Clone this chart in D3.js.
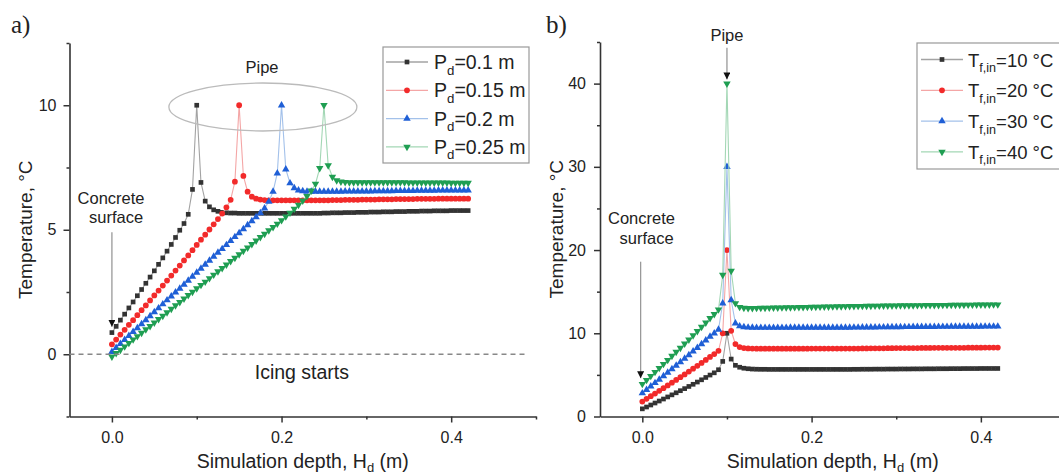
<!DOCTYPE html>
<html><head><meta charset="utf-8">
<script src="https://cdn.jsdelivr.net/npm/d3@7"></script>
<style>
body{margin:0;background:#fff}
svg{display:block}
text{font-family:"Liberation Sans",Arial,sans-serif;fill:#222}
</style>
</head><body>
<svg id="c" width="1059" height="476"></svg>
<script>
// ---------- DATA ----------
const depth = [0,0.005,0.01,0.015,0.02,0.025,0.03,0.035,0.04,0.045,
0.05,0.055,0.06,0.065,0.07,0.075,0.08,0.085,0.09,0.095,
0.1,0.105,0.11,0.115,0.12,0.125,0.13,0.135,0.14,0.145,
0.15,0.155,0.16,0.165,0.17,0.175,0.18,0.185,0.19,0.195,
0.2,0.205,0.21,0.215,0.22,0.225,0.23,0.235,0.24,0.245,
0.25,0.255,0.26,0.265,0.27,0.275,0.28,0.285,0.29,0.295,
0.3,0.305,0.31,0.315,0.32,0.325,0.33,0.335,0.34,0.345,
0.35,0.355,0.36,0.365,0.37,0.375,0.38,0.385,0.39,0.395,
0.4,0.405,0.41,0.415,0.42];

// Panel a) pipe depth P_d
const aLabels = ["0.1 m","0.15 m","0.2 m","0.25 m"];
const aPd010 = [0.87,1.12,1.37,1.61,1.86,2.10,2.35,2.60,2.85,3.10,
3.35,3.61,3.87,4.14,4.41,4.69,4.98,5.25,5.62,6.62,
10.00,6.90,6.15,5.92,5.80,5.74,5.70,5.68,5.67,5.67,
5.66,5.66,5.66,5.66,5.66,5.66,5.66,5.66,5.66,5.66,
5.66,5.66,5.66,5.66,5.66,5.66,5.66,5.66,5.66,5.66,
5.67,5.67,5.68,5.68,5.68,5.69,5.69,5.69,5.70,5.70,
5.70,5.71,5.71,5.71,5.72,5.72,5.72,5.73,5.73,5.73,
5.74,5.74,5.74,5.75,5.75,5.75,5.76,5.76,5.76,5.76,
5.77,5.77,5.77,5.77,5.77];
const aPd015 = [0.40,0.59,0.79,0.98,1.18,1.37,1.57,1.77,1.96,2.16,
2.36,2.56,2.76,2.96,3.16,3.36,3.56,3.77,3.97,4.18,
4.39,4.60,4.80,5.01,5.22,5.43,5.65,5.90,6.20,6.93,
10.00,7.16,6.53,6.33,6.25,6.21,6.19,6.18,6.18,6.18,
6.18,6.18,6.18,6.18,6.18,6.18,6.18,6.18,6.18,6.18,
6.18,6.18,6.19,6.19,6.19,6.20,6.20,6.20,6.20,6.21,
6.21,6.21,6.21,6.22,6.22,6.22,6.22,6.23,6.23,6.23,
6.23,6.23,6.24,6.24,6.24,6.24,6.24,6.25,6.25,6.25,
6.25,6.25,6.25,6.25,6.25];
const aPd020 = [0.10,0.26,0.42,0.58,0.74,0.90,1.05,1.21,1.37,1.53,
1.69,1.85,2.01,2.17,2.33,2.49,2.64,2.80,2.96,3.12,
3.28,3.44,3.60,3.76,3.92,4.08,4.23,4.39,4.55,4.71,
4.87,5.03,5.19,5.35,5.51,5.67,5.86,6.13,6.53,7.27,
10.00,7.43,6.87,6.67,6.58,6.55,6.53,6.53,6.53,6.53,
6.53,6.53,6.53,6.53,6.53,6.54,6.54,6.54,6.54,6.54,
6.54,6.54,6.55,6.55,6.55,6.55,6.55,6.56,6.56,6.56,
6.56,6.56,6.57,6.57,6.57,6.57,6.57,6.58,6.58,6.58,
6.58,6.58,6.58,6.58,6.58];
const aPd025 = [-0.10,0.04,0.17,0.31,0.45,0.59,0.72,0.86,1.00,1.13,
1.27,1.41,1.54,1.68,1.82,1.96,2.09,2.23,2.37,2.50,
2.64,2.78,2.91,3.05,3.19,3.33,3.46,3.60,3.74,3.87,
4.01,4.15,4.28,4.42,4.56,4.70,4.83,4.97,5.10,5.24,
5.38,5.53,5.68,5.84,6.00,6.17,6.35,6.57,6.84,7.47,
10.00,7.58,7.12,6.98,6.93,6.91,6.90,6.90,6.90,6.90,
6.90,6.90,6.90,6.90,6.90,6.90,6.90,6.90,6.90,6.90,
6.89,6.89,6.89,6.89,6.89,6.89,6.89,6.89,6.89,6.89,
6.88,6.88,6.88,6.88,6.88];

// Panel b) inlet fluid temperature T_f,in
const bLabels = ["10 \u00B0C","20 \u00B0C","30 \u00B0C","40 \u00B0C"];
const bT10 = [0.92,1.14,1.38,1.62,1.86,2.10,2.35,2.60,2.85,3.10,
3.35,3.61,3.87,4.14,4.41,4.69,4.98,5.25,5.62,6.62,
10.00,6.90,6.15,5.92,5.80,5.74,5.70,5.68,5.67,5.67,
5.66,5.66,5.66,5.66,5.66,5.66,5.66,5.66,5.66,5.66,
5.66,5.66,5.66,5.66,5.66,5.66,5.66,5.66,5.66,5.66,
5.67,5.67,5.68,5.68,5.68,5.69,5.69,5.69,5.70,5.70,
5.70,5.71,5.71,5.71,5.72,5.72,5.72,5.73,5.73,5.73,
5.74,5.74,5.74,5.75,5.75,5.75,5.76,5.76,5.76,5.76,
5.77,5.77,5.77,5.77,5.77];
const bT20 = [1.80,2.12,2.44,2.76,3.08,3.40,3.73,4.06,4.39,4.72,
5.06,5.40,5.74,6.09,6.44,6.80,7.16,7.50,7.90,10.00,
20.00,10.30,8.70,8.35,8.22,8.18,8.16,8.15,8.15,8.15,
8.15,8.15,8.15,8.15,8.15,8.15,8.15,8.15,8.15,8.15,
8.16,8.16,8.16,8.16,8.16,8.16,8.16,8.16,8.16,8.16,
8.17,8.17,8.18,8.18,8.19,8.19,8.20,8.20,8.21,8.21,
8.22,8.22,8.22,8.23,8.23,8.23,8.24,8.24,8.24,8.25,
8.25,8.25,8.25,8.26,8.26,8.26,8.26,8.27,8.27,8.27,
8.27,8.28,8.28,8.28,8.28];
const bT30 = [2.80,3.21,3.62,4.03,4.44,4.85,5.27,5.69,6.11,6.53,
6.96,7.39,7.82,8.26,8.70,9.15,9.60,10.00,10.45,13.60,
30.00,14.00,11.20,10.85,10.74,10.70,10.68,10.67,10.67,10.67,
10.67,10.67,10.67,10.67,10.67,10.68,10.68,10.68,10.68,10.68,
10.68,10.68,10.68,10.68,10.68,10.69,10.69,10.69,10.69,10.69,
10.70,10.70,10.71,10.71,10.72,10.72,10.73,10.73,10.74,10.74,
10.75,10.75,10.76,10.76,10.77,10.77,10.77,10.78,10.78,10.78,
10.79,10.79,10.79,10.80,10.80,10.80,10.80,10.81,10.81,10.81,
10.81,10.82,10.82,10.82,10.82];
const bT40 = [3.90,4.38,4.86,5.34,5.82,6.30,6.78,7.27,7.76,8.25,
8.74,9.24,9.74,10.25,10.76,11.28,11.82,12.30,12.85,17.00,
40.00,17.50,13.60,13.15,13.05,13.02,13.02,13.03,13.04,13.05,
13.06,13.07,13.08,13.09,13.10,13.11,13.12,13.13,13.14,13.15,
13.16,13.17,13.18,13.19,13.20,13.21,13.22,13.23,13.24,13.25,
13.26,13.27,13.27,13.28,13.29,13.30,13.30,13.31,13.32,13.32,
13.33,13.34,13.34,13.35,13.35,13.36,13.36,13.37,13.37,13.38,
13.38,13.39,13.39,13.40,13.40,13.41,13.41,13.42,13.42,13.43,
13.43,13.44,13.44,13.45,13.45];

const xTicks = [0, 0.2, 0.4];
const xMinor = [0.1, 0.3, 0.5];
const aYTicks = [0, 5, 10];
const aYMinor = [-2.5, 2.5, 7.5, 12.5];
const bYTicks = [0, 10, 20, 30, 40];
const bYMinor = [5, 15, 25, 35, 45];

// ---------- STYLE ----------
const styles = [
  {sym: d3.symbolSquare,   size: 22, rot: 0,   mark: "#333333", line: "#a3a3a3"},
  {sym: d3.symbolCircle,   size: 26, rot: 0,   mark: "#f22a2a", line: "#f4a6a6"},
  {sym: d3.symbolTriangle, size: 24, rot: 0,   mark: "#1f5fd6", line: "#a3c1ea"},
  {sym: d3.symbolTriangle, size: 24, rot: 180, mark: "#1f9e52", line: "#a3d7b5"}
];

const svg = d3.select("#c");
svg.append("rect").attr("width", 1059).attr("height", 476).attr("fill", "#fff");

const defs = svg.append("defs");
defs.append("marker").attr("id", "ah").attr("viewBox", "0 0 10 10")
  .attr("refX", 10).attr("refY", 5).attr("markerWidth", 7).attr("markerHeight", 7)
  .attr("markerUnits", "userSpaceOnUse").attr("orient", "auto")
  .append("path").attr("d", "M0,0 L10,5 L0,10 Z").attr("fill", "#111");

function drawPanel(cfg) {
  const g = svg.append("g");
  const x = cfg.x, y = cfg.y;
  const [y0] = y.range();

  cfg.series.forEach((vals, si) => {
    const st = styles[si];
    const pts = depth.map((d, i) => [d, vals[i]]);
    g.append("path").datum(pts)
      .attr("fill", "none").attr("stroke", st.line).attr("stroke-width", 1.1)
      .attr("d", d3.line().x(d => x(d[0])).y(d => y(d[1])));
    const sym = d3.symbol().type(st.sym).size(st.size);
    g.append("g").selectAll("path").data(pts).join("path")
      .attr("d", sym)
      .attr("fill", st.mark)
      .attr("transform", d => `translate(${x(d[0])},${y(d[1])}) rotate(${st.rot})`);
  });

  const xa = g.append("g").attr("transform", `translate(0,${y0})`)
    .call(d3.axisBottom(x).tickValues(xTicks).tickFormat(d3.format(".1f"))
      .tickSize(6).tickSizeOuter(0).tickPadding(9));
  const xm = g.append("g").attr("transform", `translate(0,${y0})`)
    .call(d3.axisBottom(x).tickValues(xMinor).tickFormat("").tickSize(3).tickSizeOuter(0));
  xm.select(".domain").remove();
  const x0 = x.range()[0];
  const ya = g.append("g").attr("transform", `translate(${x0},0)`)
    .call(d3.axisLeft(y).tickValues(cfg.yTicks).tickFormat(d3.format("d"))
      .tickSize(6).tickSizeOuter(0).tickPadding(cfg.yPad));
  const ym = g.append("g").attr("transform", `translate(${x0},0)`)
    .call(d3.axisLeft(y).tickValues(cfg.yMinor).tickFormat("").tickSize(3).tickSizeOuter(0));
  ym.select(".domain").remove();
  [xa, xm, ya, ym].forEach(a => {
    a.selectAll("path.domain").attr("stroke", "#333").attr("stroke-width", 1.6);
    a.selectAll(".tick line").attr("stroke", "#333").attr("stroke-width", 1.5);
    a.selectAll(".tick text").attr("font-size", 16).attr("fill", "#222")
      .style("font-family", '"Liberation Sans",Arial,sans-serif');
  });

  const xc = (x.range()[0] + cfg.xTitleEnd) / 2;
  const xt = g.append("text").attr("x", xc).attr("y", 468)
    .attr("text-anchor", "middle").attr("font-size", 19.5);
  xt.append("tspan").text("Simulation depth, H");
  xt.append("tspan").attr("font-size", 13).attr("dy", 4).text("d");
  xt.append("tspan").attr("dy", -4).text(" (m)");
  g.append("text").attr("transform", `translate(${cfg.yTitleX},${(y.range()[0] + y.range()[1]) / 2}) rotate(-90)`)
    .attr("text-anchor", "middle").attr("font-size", 19).text("Temperature, \u00B0C");

  g.append("text").attr("x", cfg.tagX).attr("y", 33).attr("font-size", 25)
    .style("font-family", '"Liberation Serif","DejaVu Serif",serif').text(cfg.tag);

  const L = cfg.legend;
  g.append("rect").attr("x", L.x).attr("y", L.y).attr("width", L.w).attr("height", L.h)
    .attr("fill", "#fff").attr("stroke", "#999").attr("stroke-width", 1.2);
  cfg.labels.forEach((lab, i) => {
    const st = styles[i];
    const yy = L.y0 + i * L.dy;
    g.append("line").attr("x1", L.lx1).attr("x2", L.lx2).attr("y1", yy).attr("y2", yy)
      .attr("stroke", st.line).attr("stroke-width", 1.3);
    g.append("path").attr("d", d3.symbol().type(st.sym).size(st.size))
      .attr("fill", st.mark)
      .attr("transform", `translate(${(L.lx1 + L.lx2) / 2},${yy}) rotate(${st.rot})`);
    const t = g.append("text").attr("x", L.tx).attr("y", yy + 7).attr("font-size", L.fs);
    t.append("tspan").text(cfg.sym);
    t.append("tspan").attr("font-size", L.fs * 0.68).attr("dy", 5.5).text(cfg.sub);
    t.append("tspan").attr("dy", -5.5).text("=" + lab);
  });
  return g;
}

// ---------- PANEL A ----------
const xA = d3.scaleLinear().domain([-0.05, 0.5]).range([69.5, 536]);
const yA = d3.scaleLinear().domain([-2.5, 12.5]).range([416.5, 43]);
const gA = drawPanel({
  x: xA, y: yA, yTicks: aYTicks, yMinor: aYMinor, yPad: 7,
  series: [aPd010, aPd015, aPd020, aPd025], labels: aLabels, sym: "P", sub: "d",
  xTitleEnd: 536, yTitleX: 32, tag: "a)", tagX: 11,
  legend: {x: 383, y: 47, w: 146, h: 116, y0: 62, dy: 28.3, lx1: 386, lx2: 428, tx: 434, fs: 19.5}
});
gA.append("line").attr("x1", xA(-0.05)).attr("x2", xA(0.487)).attr("y1", yA(0)).attr("y2", yA(0))
  .attr("stroke", "#888").attr("stroke-width", 1.3).attr("stroke-dasharray", "5,4");
gA.append("text").attr("x", xA(0.224)).attr("y", 379).attr("text-anchor", "middle")
  .attr("font-size", 19.5).text("Icing starts");
gA.append("ellipse").attr("cx", xA(0.178)).attr("cy", yA(9.93)).attr("rx", 94).attr("ry", 24)
  .attr("fill", "none").attr("stroke", "#bbb").attr("stroke-width", 1.3);
gA.append("text").attr("x", xA(0.177)).attr("y", 73).attr("text-anchor", "middle")
  .attr("font-size", 16.5).text("Pipe");
gA.append("text").attr("x", xA(-0.001)).attr("y", 204).attr("text-anchor", "middle")
  .attr("font-size", 16.5).text("Concrete");
gA.append("text").attr("x", xA(0.005)).attr("y", 223).attr("text-anchor", "middle")
  .attr("font-size", 16.5).text("surface");
gA.append("line").attr("x1", xA(0)).attr("x2", xA(0)).attr("y1", yA(4.9)).attr("y2", yA(1.1))
  .attr("stroke", "#999").attr("stroke-width", 1.3).attr("marker-end", "url(#ah)");

// ---------- PANEL B ----------
const xB = d3.scaleLinear().domain([-0.05, 0.5]).range([600, 1065.5]);
const yB = d3.scaleLinear().domain([0, 45]).range([416.5, 42]);
const gB = drawPanel({
  x: xB, y: yB, yTicks: bYTicks, yMinor: bYMinor, yPad: 8,
  series: [bT10, bT20, bT30, bT40], labels: bLabels, sym: "T", sub: "f,in",
  xTitleEnd: 1065.5, yTitleX: 563, tag: "b)", tagX: 546,
  legend: {x: 917, y: 43, w: 160, h: 126, y0: 59.5, dy: 30.8, lx1: 921, lx2: 963, tx: 968, fs: 18.5}
});
gB.append("text").attr("x", xB(0.1)).attr("y", 41).attr("text-anchor", "middle")
  .attr("font-size", 16.5).text("Pipe");
gB.append("line").attr("x1", xB(0.1)).attr("x2", xB(0.1)).attr("y1", yB(44.3)).attr("y2", yB(40.5))
  .attr("stroke", "#999").attr("stroke-width", 1.3).attr("marker-end", "url(#ah)");
gB.append("text").attr("x", xB(-0.001)).attr("y", 224).attr("text-anchor", "middle")
  .attr("font-size", 16.5).text("Concrete");
gB.append("text").attr("x", xB(0.005)).attr("y", 244).attr("text-anchor", "middle")
  .attr("font-size", 16.5).text("surface");
gB.append("line").attr("x1", xB(-0.002)).attr("x2", xB(-0.002)).attr("y1", yB(18.6)).attr("y2", yB(4.6))
  .attr("stroke", "#999").attr("stroke-width", 1.3).attr("marker-end", "url(#ah)");
</script>
</body></html>
